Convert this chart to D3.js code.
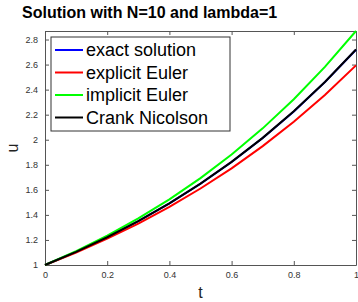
<!DOCTYPE html>
<html>
<head>
<meta charset="utf-8">
<script src="https://cdn.jsdelivr.net/npm/d3@7"></script>
<style>
  body { margin: 0; background: #fff; }
  svg { font-family: "Liberation Sans", Arial, sans-serif; }
</style>
</head>
<body>
<svg id="chart" width="358" height="302"></svg>
<script>
// time grid, N=10
const tValues = [0, 0.1, 0.2, 0.3, 0.4, 0.5, 0.6, 0.7, 0.8, 0.9, 1];

// series
const exactU    = [1, 1.1052, 1.2214, 1.3499, 1.4918, 1.6487, 1.8221, 2.0138, 2.2255, 2.4596, 2.7183];
const explicitU = [1, 1.1, 1.21, 1.331, 1.4641, 1.6105, 1.7716, 1.9487, 2.1436, 2.3579, 2.5937];
const implicitU = [1, 1.1111, 1.2346, 1.3717, 1.5242, 1.6935, 1.8817, 2.0908, 2.3231, 2.5812, 2.8680];
const crankU    = [1, 1.1053, 1.2216, 1.3502, 1.4923, 1.6494, 1.8230, 2.0149, 2.2270, 2.4614, 2.7205];

const seriesNames = ["exact solution", "explicit Euler", "implicit Euler", "Crank Nicolson"];
const seriesColors = ["#0000ff", "#ff0000", "#00ff00", "#000000"];

const xTicks = [0, 0.2, 0.4, 0.6, 0.8, 1];
const yTicks = [1, 1.2, 1.4, 1.6, 1.8, 2, 2.2, 2.4, 2.6, 2.8];

var svg = d3.select('#chart');

var margin = {left: 45, right: 2, top: 31, bottom: 37},
    width = +svg.attr('width') - margin.left - margin.right,
    height = +svg.attr('height') - margin.top - margin.bottom;

var x = d3.scaleLinear().domain([0, 1]).range([0, width]);
var y = d3.scaleLinear().domain([1, 2.868]).range([height, 0]);

var g = svg.append('g')
    .attr('transform', 'translate(' + margin.left + ',' + margin.top + ')');

// axes with inward ticks (box style)
function styleAxis(sel) {
    sel.select('.domain').attr('stroke', '#555');
    sel.selectAll('.tick line').attr('stroke', '#555');
    sel.selectAll('.tick text').attr('fill', '#333').attr('font-size', 9);
}

g.append('g')
    .attr('transform', 'translate(0,' + height + ')')
    .call(d3.axisBottom(x).tickValues(xTicks).tickSize(-4).tickPadding(7).tickSizeOuter(0)
        .tickFormat(d3.format('')))
    .call(styleAxis);

g.append('g')
    .call(d3.axisTop(x).tickValues(xTicks).tickSize(-4).tickSizeOuter(0).tickFormat(''))
    .call(styleAxis);

g.append('g')
    .call(d3.axisLeft(y).tickValues(yTicks).tickSize(-4).tickPadding(7).tickSizeOuter(0)
        .tickFormat(d3.format('')))
    .call(styleAxis);

g.append('g')
    .attr('transform', 'translate(' + width + ',0)')
    .call(d3.axisRight(y).tickValues(yTicks).tickSize(-4).tickSizeOuter(0).tickFormat(''))
    .call(styleAxis);

// lines
var allSeries = [exactU, explicitU, implicitU, crankU];
var line = d3.line()
    .x(function(d, i) { return x(tValues[i]); })
    .y(function(d) { return y(d); });

// draw order: exact, explicit, implicit, then Crank Nicolson on top
allSeries.forEach(function(s, i) {
    g.append('path')
        .datum(s)
        .attr('fill', 'none')
        .attr('stroke', seriesColors[i])
        .attr('stroke-width', 2)
        .attr('d', line);
});

// title and axis labels
svg.append('text')
    .attr('x', 22).attr('y', 18)
    .attr('font-size', 16).attr('font-weight', 'bold')
    .text('Solution with N=10 and lambda=1');

svg.append('text')
    .attr('x', margin.left + width / 2).attr('y', 298)
    .attr('text-anchor', 'middle').attr('font-size', 16).attr('fill', '#222')
    .text('t');

svg.append('text')
    .attr('transform', 'translate(18,' + (margin.top + height / 2) + ') rotate(-90)')
    .attr('text-anchor', 'middle').attr('font-size', 16).attr('fill', '#222')
    .text('u');

// legend
var legend = svg.append('g').attr('transform', 'translate(51,37)');
legend.append('rect')
    .attr('width', 179).attr('height', 94)
    .attr('fill', '#fff').attr('stroke', '#333').attr('stroke-width', 1);

var items = legend.selectAll('.item')
    .data(seriesNames)
  .enter().append('g')
    .attr('transform', function(d, i) { return 'translate(0,' + (13 + i * 22.5) + ')'; });

items.append('line')
    .attr('x1', 4).attr('x2', 32)
    .attr('stroke', function(d, i) { return seriesColors[i]; })
    .attr('stroke-width', 2);

items.append('text')
    .attr('x', 35).attr('dy', '0.35em')
    .attr('font-size', 18)
    .text(function(d) { return d; });
</script>
</body>
</html>
